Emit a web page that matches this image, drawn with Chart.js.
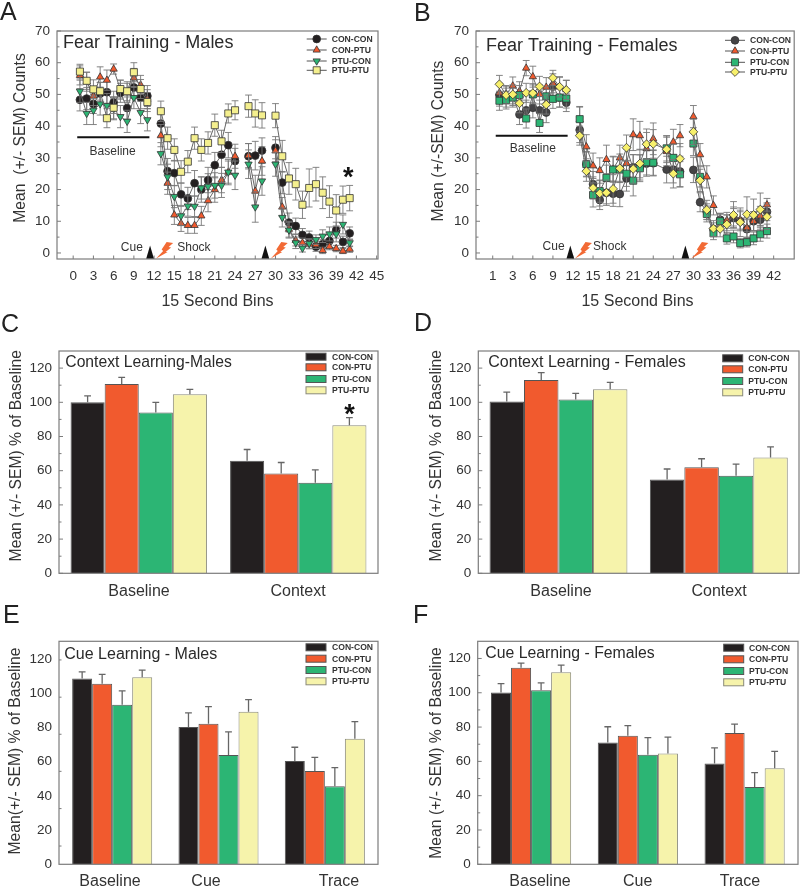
<!DOCTYPE html>
<html>
<head>
<meta charset="utf-8">
<title>Fear training and learning</title>
<script src="https://cdn.jsdelivr.net/npm/chart.js@4"></script>
<style>
html, body { margin: 0; padding: 0; background: #fff; }
#page { position: relative; width: 800px; height: 887px; overflow: hidden; }
canvas { position: absolute; }
</style>
</head>
<body>
<div id="page"></div>
<script>
const seriesNames = ["CON-CON", "CON-PTU", "PTU-CON", "PTU-PTU"];

// panel A, bins 12, 25 and 29 have no data
const binsA = [1,2,3,4,5,6,7,8,9,10,11,12,13,14,15,16,17,18,19,20,21,22,23,24,25,26,27,28,29,30,31,32,33,34,35,36,37,38,39,40,41];
const conConA = [48.3,48.7,47,50.3,50.7,47.5,50.5,45.7,52.2,49,49.5,null,40.8,25.8,25.2,18.5,17.2,22,20,23,27.7,31,34,29,null,30.5,30.7,32.3,null,33.2,22.2,9.6,8.5,5.7,4.9,2,2.8,3.8,7.2,3.5,6.2];
const conPtuA = [56,54,49.5,55.5,54.5,58,51.5,50.5,55.2,53,48.5,null,37,22,12,9.3,8.7,8.7,11.7,16.5,20,23,25.5,30.5,null,30.7,19.5,29,null,32.2,14.5,7.5,4,3.2,2.8,2.6,0.8,2,1.4,0.6,1.2];
const ptuConA = [51,44,45,47,46.5,45.5,43,41.5,49,44.3,42,null,31.3,24,17.8,11.7,14.8,14.7,20.5,21,21.3,21.3,25.5,24.5,null,28,14.5,22.7,null,28,11.2,7.2,3.2,1.5,3,4.2,5.3,6,6,9,3.2];
const ptuPtuA = [57.2,54.3,51.6,51,42.5,45.8,51.7,51,57,51.7,47.6,null,44.7,36.2,32.5,25.6,28.8,36.2,32.5,34.7,40.3,35.2,44,45,null,46.3,44,43.4,null,43.3,30.5,23.5,21.7,15.2,20.5,21.7,19,16.2,13.4,16.8,17.3];
const semConConA = [3.5,3.5,3,3.5,3.5,3.5,3,3.5,3.5,3.5,3.3,null,4,4,4,3.5,3.5,4,4,4,4,4,4,4,null,4,4.5,4,null,3.5,3.5,3,2.5,2,2,1.5,1.5,2,2.5,1.8,2];
const semConPtuA = [3,3,3,3.2,3.2,1.6,3,3,3,3,3,null,3.5,3.5,3,2.5,2.5,2.5,3,3.5,4,4,3.5,3.8,null,3.8,5,4.5,null,3.5,3,2.5,1.8,1.5,1.5,1.2,1,1,1,0.8,1];
const semPtuConA = [3.5,3.5,4.5,3.5,3.8,3.5,3.5,3.5,3.5,3.5,3.5,null,3.5,4,3.5,3,3.2,3.2,3.5,4,4,3.8,4,4.5,null,4.5,4.8,4.5,null,3.8,3,2.5,1.8,1.2,1.5,1.5,2,2.2,2.5,3,1.2];
const semPtuPtuA = [2.3,2.7,3,2.8,3,3.5,2.8,3,3,3,3,null,3.2,3.5,3.5,3.5,3.5,3.5,3.5,3.5,3.5,3.5,3,3,null,3.5,4.3,4,null,3.8,5,5,5,4.3,6,5.3,5,5,5,4.3,4];

// panel B, bins 12 and 29 have no data, lines carry on over 25
const binsB = [1,2,3,4,5,6,7,8,9,10,11,12,13,14,15,16,17,18,19,20,21,22,23,24,26,27,28,29,30,31,32,33,34,35,36,37,38,39,40,41];
const conConB = [49.8,49,49.5,43.7,45,45.8,45,44.3,52.5,49,47.4,null,38.8,28,21.7,16.7,19,18.7,18.6,23.5,27,27,28.2,28.3,26.3,26.3,25.7,null,26.2,16,13,7.5,10.5,9.5,11,10,7.5,10,10.5,13];
const conPtuB = [50.5,50,52.7,51,58.3,55.6,50,52.3,53.5,52.4,51.5,null,42,33.5,27.5,26,29.5,26.5,30,28.3,37.3,37,33,36,32,35,37,null,43,31,24,15,10,10.3,11.5,10.5,8,10,11.7,15.2];
const ptuConB = [48,48.2,49,49.8,42.4,50,41,49.4,48.6,49,48.7,null,42.2,28,18.3,19.5,23.7,26.3,26.3,25,22.8,26.7,28.6,28.5,33,30,24.8,null,34.5,24,12.3,6.2,10,4.6,5.2,3.1,3.4,4.6,5.9,6.9];
const ptuPtuB = [53.2,49.8,50,47.2,50.5,50.4,52.5,46.8,55.2,52.4,51.4,null,37,25.8,20.5,18.8,19,20.2,26.7,33.2,26.5,28.2,34.3,34.4,32.7,25,29.7,null,38.2,22.9,13.6,7.7,7.6,9,12,9.7,12.2,12,13.7,11.4];
const semConConB = [3.5,3,3,3.2,3.2,3.2,3.2,3.2,3,3,2.8,null,4,4,4,3,3.5,4,4,4,4,4,4,4,4.2,4.2,4.8,null,4,3,2.5,2,2,2.5,3,3,3,3,3,2.8];
const semConPtuB = [3,2.8,2.8,3,2.4,3.3,3,3,3,3,3,null,4.2,3.8,4,4,4.5,4,4,4.5,5,4.5,5,5,4.5,4,3.5,null,3.5,3.5,3.5,3,2.5,2.5,3,3,3,3,3,2];
const semPtuConB = [3,2.8,3,3,3,3,3,3,3,3,3,null,3.8,3.8,3.8,3.5,4,4,4,4,4.8,4.2,4,4,4,4.3,4,null,3.8,3.2,2.5,2,2.2,1.8,2,1.5,1.5,2,2.2,2.2];
const semPtuPtuB = [2.8,2.8,3,3,3,3,3.2,3,2.4,3.2,3,null,3,3.2,3.5,4,4,4.5,4.5,4,4.5,4.5,4.8,4.5,4.2,4.5,4.8,null,4,3.5,3,2.5,2.5,3,4.2,4.5,5.5,5,5.2,4];

const binTicks = [0,3,6,9,12,15,18,21,24,27,30,33,36,39,42,45];
const binTicksB = [0,3,6,9,12,15,18,21,24,27,30,33,36,39,42];
const binTickLabelsA = ["0","3","6","9","12","15","18","21","24","27","30","33","36","39","42","45"];
const binTickLabelsB = ["1","3","6","9","12","15","18","21","24","27","30","33","36","39","42"];
const fearTicks = [0,10,20,30,40,50,60,70];
const fearMinor = [5,15,25,35,45,55,65];
const pctTicks = [0,20,40,60,80,100,120];
const pctMinor = [10,30,50,70,90,110];
const pctMarksE = [10.7,32.6,54.4,76.1,97.8,119.6];

// panel C
const contextCats = ["Baseline", "Context"];
const conConC = [100, 65.8], conPtuC = [110.7, 58.4], ptuConC = [94, 53], ptuPtuC = [104.7, 86.6];
const semConConC = [3.8, 6.6], semConPtuC = [3.9, 6.4], semPtuConC = [6, 7.5], semPtuPtuC = [2.9, 4.4];
// panel D
const conConD = [100.4, 54.9], conPtuD = [113, 62], ptuConD = [101.7, 57], ptuPtuD = [107.6, 67.7];
const semConConD = [5.6, 6.1], semConPtuD = [4.3, 5], semPtuConD = [3.5, 6.8], semPtuPtuD = [4.1, 6.2];
// panel E
const cueCats = ["Baseline", "Cue", "Trace"];
const conConE = [108.7, 80.4, 60.5], conPtuE = [105.6, 82.3, 54.6], ptuConE = [93.3, 64, 45.7], ptuPtuE = [109.5, 89.2, 73.4];
const semConConE = [3.9, 8.2, 8], semConPtuE = [5.6, 10, 8], semPtuConE = [8.2, 13.5, 10.9], semPtuPtuE = [4.1, 7.2, 10.1];
// panel F
const conConF = [100.2, 71, 58.8], conPtuF = [114.6, 74.9, 76.5], ptuConF = [101.4, 63.8, 45], ptuPtuF = [112, 64.6, 56];
const semConConF = [5.1, 9.2, 9.1], semConPtuF = [2.7, 6, 5.2], semPtuConF = [4.4, 10.1, 8.5], semPtuPtuF = [4.1, 9.5, 9.8];

const black = "#231f20", orange = "#f15a2e", green = "#2cb574", paleYellow = "#f6f3ab";
const FONT = '"Liberation Sans", Arial, sans-serif';
const axisGrey = "#7c7c7c";

function pageText(ctx, str, x, y, font, color, align, rotate) {
    ctx.save();
    ctx.font = font;
    ctx.fillStyle = color || "#333";
    ctx.textAlign = align || "left";
    ctx.textBaseline = "alphabetic";
    ctx.translate(x, y);
    if (rotate) ctx.rotate(-Math.PI / 2);
    ctx.fillText(str, 0, 0);
    ctx.restore();
}

function drawBolt(ctx, x, y) {
    const shape = [[0,0],[7,-7.5],[5.5,-9],[10.5,-16.5],[17,-15.5],[12.5,-11.5],[15,-11],[9.5,-6.5],[11.5,-6.5]];
    ctx.fillStyle = "#f26a35";
    ctx.beginPath();
    shape.forEach((p, i) => i ? ctx.lineTo(x + p[0], y + p[1]) : ctx.moveTo(x + p[0], y + p[1]));
    ctx.closePath();
    ctx.fill();
}

function framePlugin(p) {
    return {
        id: "frame",
        afterDraw(chart) {
            const ctx = chart.ctx, a = chart.chartArea, sy = chart.scales.y, sx = chart.scales.x;
            ctx.save();
            ctx.strokeStyle = axisGrey;
            ctx.lineWidth = 1.2;
            ctx.strokeRect(a.left, a.top, a.right - a.left, a.bottom - a.top);
            ctx.lineWidth = 1;
            ctx.beginPath();
            p.yMajor.forEach(v => { const y = sy.getPixelForValue(v); ctx.moveTo(a.left, y); ctx.lineTo(a.left + 4, y); });
            p.yMinor.forEach(v => { const y = sy.getPixelForValue(v); ctx.moveTo(a.left, y); ctx.lineTo(a.left + 2.5, y); });
            if (p.xMajor) p.xMajor.forEach(v => { const x = sx.getPixelForValue(v); ctx.moveTo(x, a.bottom); ctx.lineTo(x, a.bottom - 3.5); });
            ctx.stroke();
            ctx.restore();

            // page coordinates for the texts around the plot
            ctx.save();
            ctx.translate(-p.rect[0], -p.rect[1]);
            pageText(ctx, p.letter[0], p.letter[1], p.letter[2], "25px " + FONT, "#222");
            pageText(ctx, p.title[0], p.title[1], p.title[2], p.title[3] + "px " + FONT, "#2a2a2a");
            pageText(ctx, p.yTitle[0], p.yTitle[1], p.yTitle[2], p.yTitle[3] + "px " + FONT, "#333", "center", true);
            if (p.xTitle) pageText(ctx, p.xTitle[0], p.xTitle[1], p.xTitle[2], "16px " + FONT, "#333", "center");
            if (p.catLabels) p.catLabels.forEach((c, i) => pageText(ctx, c, p.catX[i], p.catY, "16px " + FONT, "#333", "center"));
            p.legendY.forEach((y, i) => {
                if (p.swatch) {
                    ctx.fillStyle = [black, orange, green, paleYellow][i];
                    ctx.strokeStyle = i === 3 ? "#8a8a7a" : "#555";
                    ctx.fillRect(p.swatch[0], y - 3.5, 20, 7);
                    ctx.strokeRect(p.swatch[0], y - 3.5, 20, 7);
                } else {
                    const d = chart.data.datasets[i], cx = p.legendX + 10;
                    ctx.strokeStyle = "#555";
                    ctx.lineWidth = 1;
                    ctx.beginPath();
                    ctx.moveTo(p.legendX, y);
                    ctx.lineTo(p.legendX + 20, y);
                    ctx.stroke();
                    ctx.fillStyle = d.pointBackgroundColor;
                    ctx.strokeStyle = "#333";
                    ctx.lineWidth = 0.8;
                    Chart.helpers.drawPoint(ctx, {
                        pointStyle: d.pointStyle, radius: d.pointRadius, rotation: d.pointRotation || 0, borderWidth: 0.8
                    }, cx, y);
                }
                pageText(ctx, seriesNames[i], p.legendText, y + 3, "bold 8.6px " + FONT, "#333");
            });
            ctx.restore();
        }
    };
}

function semPlugin(sems, color, upOnly, capHalf) {
    return {
        id: "sem",
        [upOnly ? "afterDatasetDraw" : "beforeDatasetDraw"](chart, args) {
            const ctx = chart.ctx, sy = chart.scales.y, meta = chart.getDatasetMeta(args.index);
            const sem = sems[args.index], vals = chart.data.datasets[args.index].data;
            ctx.save();
            ctx.strokeStyle = color;
            ctx.lineWidth = upOnly ? 1.3 : 0.9;
            ctx.beginPath();
            meta.data.forEach((el, i) => {
                const v = upOnly ? vals[i] : vals[i].y;
                if (v === null || sem[i] === null) return;
                const x = el.x, top = sy.getPixelForValue(v + sem[i]), low = upOnly ? sy.getPixelForValue(v) : sy.getPixelForValue(v - sem[i]);
                ctx.moveTo(x, low); ctx.lineTo(x, top);
                ctx.moveTo(x - capHalf, top); ctx.lineTo(x + capHalf, top);
                if (!upOnly) { ctx.moveTo(x - capHalf, low); ctx.lineTo(x + capHalf, low); }
            });
            ctx.stroke();
            ctx.restore();
        }
    };
}

function fearNotes(n) {
    return {
        id: "fearNotes",
        afterDraw(chart) {
            const ctx = chart.ctx, sx = chart.scales.x, sy = chart.scales.y, bottom = chart.chartArea.bottom;
            ctx.save();
            ctx.strokeStyle = "#111";
            ctx.lineWidth = 2;
            ctx.beginPath();
            ctx.moveTo(sx.getPixelForValue(n.bar[0]), sy.getPixelForValue(n.bar[2]));
            ctx.lineTo(sx.getPixelForValue(n.bar[1]), sy.getPixelForValue(n.bar[2]));
            ctx.stroke();
            const label = (s, x, v) => pageText(ctx, s, sx.getPixelForValue(x), sy.getPixelForValue(v) + 4.3, "12px " + FONT, "#333", "center");
            label("Baseline", n.baselineLabel[0], n.baselineLabel[1]);
            label("Cue", n.cue[0], n.cue[1]);
            label("Shock", n.shock[0], n.shock[1]);
            n.cueMarks.forEach(v => {
                const x = sx.getPixelForValue(v);
                ctx.fillStyle = "#111";
                ctx.beginPath();
                ctx.moveTo(x, bottom - 13.5);
                ctx.lineTo(x + 3.8, bottom - 0.5);
                ctx.lineTo(x - 3.8, bottom - 0.5);
                ctx.closePath();
                ctx.fill();
            });
            n.boltMarks.forEach(v => drawBolt(ctx, sx.getPixelForValue(v), bottom - 0.5));
            if (n.star) {
                pageText(ctx, "*", sx.getPixelForValue(n.star[0]), sy.getPixelForValue(n.star[1]) + 14, "bold 27px " + FONT, "#111", "center");
            }
            ctx.restore();
        }
    };
}

function barStar(v) {
    return {
        id: "barStar",
        afterDraw(chart) {
            const el = chart.getDatasetMeta(3).data[1];
            pageText(chart.ctx, "*", el.x, chart.scales.y.getPixelForValue(v) + 14, "bold 27px " + FONT, "#111", "center");
        }
    };
}

function makeCanvas(rect) {
    const c = document.createElement("canvas");
    c.width = rect[2];
    c.height = rect[3];
    c.style.left = rect[0] + "px";
    c.style.top = rect[1] + "px";
    c.style.width = rect[2] + "px";
    c.style.height = rect[3] + "px";
    document.getElementById("page").appendChild(c);
    return c;
}

function commonOptions(p, xScale) {
    const r = p.rect, plot = p.plot;
    return {
        responsive: false,
        animation: false,
        devicePixelRatio: 1,
        layout: { padding: { top: plot[1] - r[1], right: r[0] + r[2] - plot[2], left: 0, bottom: 0 } },
        plugins: { legend: { display: false }, tooltip: { enabled: false } },
        scales: {
            x: Object.assign({
                grid: { display: false, drawTicks: false },
                border: { display: false },
                afterFit: s => { s.height = r[1] + r[3] - plot[3]; }
            }, xScale),
            y: {
                min: p.yRange[0],
                max: p.yRange[1],
                grid: { display: false, drawTicks: false },
                border: { display: false },
                afterFit: s => { s.width = plot[0] - r[0]; },
                afterBuildTicks: s => { s.ticks = p.yMajorLabels.map(v => ({ value: v })); },
                ticks: { padding: 7, color: "#333", font: { family: FONT, size: 13.5 }, autoSkip: false, callback: v => String(v) }
            }
        }
    };
}

function fearChart(p, bins, series, sems, styles, ticks, labels, notes) {
    const datasets = series.map((vals, i) => ({
        label: seriesNames[i],
        data: vals.map((v, k) => ({ x: bins[k], y: v })),
        borderColor: "#666",
        borderWidth: 1,
        spanGaps: false,
        tension: 0,
        pointStyle: styles[i].shape,
        pointRadius: styles[i].size,
        pointRotation: styles[i].rot || 0,
        pointBackgroundColor: styles[i].fill,
        pointBorderColor: "#333",
        pointBorderWidth: 0.8,
        order: 3 - i
    }));
    new Chart(makeCanvas(p.rect), {
        type: "line",
        data: { datasets },
        options: commonOptions(p, {
            type: "linear",
            min: p.xRange[0],
            max: p.xRange[1],
            afterBuildTicks: s => { s.ticks = ticks.map(v => ({ value: v })); },
            ticks: {
                padding: 9, color: "#333", font: { family: FONT, size: 13.5 }, autoSkip: false, maxRotation: 0,
                callback: (v, i) => labels[i]
            }
        }),
        plugins: [semPlugin(sems, "#777", false, 3.4), framePlugin(p), fearNotes(notes)]
    });
}

function barChart(p, cats, series, sems, groupWidth, extra) {
    const fills = [black, orange, green, paleYellow];
    const datasets = series.map((vals, i) => ({
        label: seriesNames[i],
        data: vals,
        backgroundColor: fills[i],
        borderColor: i === 3 ? "#8a8a7a" : "#555",
        borderWidth: 1,
        barPercentage: 1,
        categoryPercentage: groupWidth
    }));
    new Chart(makeCanvas(p.rect), {
        type: "bar",
        data: { labels: cats, datasets },
        options: commonOptions(p, { ticks: { display: false } }),
        plugins: [semPlugin(sems, "#666", true, 3.4), framePlugin(p)].concat(extra || [])
    });
}

const circleA = { shape: "circle", size: 3.9, fill: black };
const triUp = { shape: "triangle", size: 4.2, fill: orange };
const triDown = { shape: "triangle", size: 4.2, rot: 180, fill: green };
const squareY = { shape: "rect", size: 5, fill: "#f4ef8e" };
const circleB = { shape: "circle", size: 3.9, fill: "#444345" };
const squareG = { shape: "rect", size: 5, fill: green };
const diamondY = { shape: "rectRot", size: 4.4, fill: "#f7f06c" };

fearChart({
    rect: [0, 0, 400, 310], plot: [57, 31, 378, 259], xRange: [-2.4, 45.2], yRange: [-1.9, 70],
    yMajorLabels: fearTicks, yMajor: fearTicks, yMinor: fearMinor, xMajor: binTicks,
    letter: ["A", 0, 20], title: ["Fear Training - Males", 63, 47.5, 18],
    yTitle: ["Mean  (+/- SEM) Counts", 25, 138, 15.7], xTitle: ["15 Second Bins", 217.5, 306],
    legendX: 306.7, legendText: 331.7, legendY: [39, 50, 61, 70.3]
}, binsA, [conConA, conPtuA, ptuConA, ptuPtuA], [semConConA, semConPtuA, semPtuConA, semPtuPtuA],
    [circleA, triUp, triDown, squareY], binTicks, binTickLabelsA, {
    bar: [0.6, 11.3, 36.5], baselineLabel: [5.85, 32.3], cue: [8.7, 1.9], shock: [17.9, 1.9],
    cueMarks: [11.4, 28.5], boltMarks: [12.3, 29.3], star: [40.8, 25.6]
});

fearChart({
    rect: [400, 0, 400, 310], plot: [476, 31, 799, 259], xRange: [-2.5, 45.07], yRange: [-1.9, 70],
    yMajorLabels: fearTicks, yMajor: fearTicks, yMinor: fearMinor, xMajor: binTicksB,
    letter: ["B", 414, 20.5], title: ["Fear Training - Females", 486, 51, 18],
    yTitle: ["Mean (+/-SEM) Counts", 443, 141, 15.7], xTitle: ["15 Second Bins", 637.5, 306],
    legendX: 725, legendText: 750, legendY: [40.3, 51, 62.3, 72]
}, binsB, [conConB, conPtuB, ptuConB, ptuPtuB], [semConConB, semConPtuB, semPtuConB, semPtuPtuB],
    [circleB, triUp, squareG, diamondY], binTicksB, binTickLabelsB, {
    bar: [0.45, 11.2, 37], baselineLabel: [6, 33.3], cue: [9.1, 2.4], shock: [17.5, 2.4],
    cueMarks: [11.6, 28.8], boltMarks: [12.3, 29.7]
});

barChart({
    rect: [0, 310, 400, 290], plot: [59, 351, 378, 573.3], yRange: [0, 130],
    yMajorLabels: pctTicks, yMajor: pctTicks, yMinor: pctMinor,
    letter: ["C", 1, 332], title: ["Context Learning-Males", 65.3, 366.7, 15.7],
    yTitle: ["Mean (+/- SEM) % of Baseline", 20.5, 455.7, 15.7],
    catLabels: contextCats, catX: [139, 298], catY: 596,
    swatch: [306], legendText: 332, legendY: [356.7, 367.3, 379, 390.3]
}, contextCats, [conConC, conPtuC, ptuConC, ptuPtuC], [semConConC, semConPtuC, semPtuConC, semPtuPtuC], 0.855, [barStar(96)]);

barChart({
    rect: [400, 310, 400, 290], plot: [478.3, 351, 799, 573.3], yRange: [0, 130],
    yMajorLabels: pctTicks, yMajor: pctTicks, yMinor: pctMinor,
    letter: ["D", 414, 331], title: ["Context Learning - Females", 488.3, 367.3, 16],
    yTitle: ["Mean (+/- SEM) % of Baseline", 440.5, 455.7, 15.7],
    catLabels: contextCats, catX: [561, 719], catY: 596,
    swatch: [722.7], legendText: 748.3, legendY: [358.3, 369.3, 381, 392.3]
}, contextCats, [conConD, conPtuD, ptuConD, ptuPtuD], [semConConD, semConPtuD, semPtuConD, semPtuPtuD], 0.86);

barChart({
    rect: [0, 600, 400, 287], plot: [59, 641.3, 378, 864.3], yRange: [0, 130.5],
    yMajorLabels: pctTicks, yMajor: [], yMinor: pctMarksE,
    letter: ["E", 3, 623], title: ["Cue Learning - Males", 64.3, 659, 16],
    yTitle: ["Mean(+/- SEM) % of Baseline", 20, 751, 15.7],
    catLabels: cueCats, catX: [110, 206, 339], catY: 886,
    swatch: [306], legendText: 332, legendY: [647.3, 658.7, 670, 681.3]
}, cueCats, [conConE, conPtuE, ptuConE, ptuPtuE], [semConConE, semConPtuE, semPtuConE, semPtuPtuE], 0.753);

barChart({
    rect: [400, 600, 400, 287], plot: [477.7, 641.3, 798, 864.3], yRange: [0, 130],
    yMajorLabels: pctTicks, yMajor: pctTicks, yMinor: pctMinor,
    letter: ["F", 413, 623], title: ["Cue Learning - Females", 485.3, 657.7, 15.8],
    yTitle: ["Mean (+/- SEM) % of Baseline", 440.5, 753, 15.7],
    catLabels: cueCats, catX: [540, 637.7, 740], catY: 886,
    swatch: [723.7], legendText: 749, legendY: [647.7, 659.3, 671, 682.3]
}, cueCats, [conConF, conPtuF, ptuConF, ptuPtuF], [semConConF, semConPtuF, semPtuConF, semPtuPtuF], 0.751);
</script>
</body>
</html>
